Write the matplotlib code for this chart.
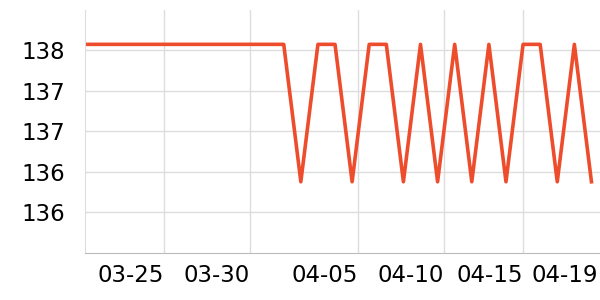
import matplotlib
matplotlib.use("Agg")
import matplotlib.pyplot as plt
import pandas as pd

# daily readings
dates = pd.date_range("2024-03-20", "2024-04-19", freq="D")
hi, lo = 137.66, 136.30
values = [hi] * 13 + [lo, hi, hi, lo, hi, hi, lo, hi, lo, hi, lo, hi, lo, hi, hi, lo, hi, lo]

tick_pos = pd.to_datetime(["2024-03-25 00:00", "2024-03-30 00:00", "2024-04-05 08:00",
                           "2024-04-10 09:00", "2024-04-15 00:00", "2024-04-19 09:00"])
tick_labels = ["03-25", "03-30", "04-05", "04-10", "04-15", "04-19"]
y_ticks = [136.0, 136.4, 136.8, 137.2, 137.6]

fig = plt.figure(figsize=(6, 3), dpi=100)
ax = fig.add_axes([85 / 600, 47.5 / 300, 515 / 600, 242.5 / 300])

ax.plot(dates, values, color="#ee4d2d", lw=2.6, solid_joinstyle="round")

ax.set_xlim(pd.Timestamp("2024-03-20 09:00"), pd.Timestamp("2024-04-19 12:00"))
ax.set_ylim(135.6, 138.0)

ax.set_xticks(tick_pos)
ax.set_xticklabels(tick_labels, ha="right")
ax.set_yticks(y_ticks)
ax.yaxis.set_major_formatter(plt.FuncFormatter(lambda v, p: f"{v:.0f}"))

ax.tick_params(axis="both", length=0, labelsize=16.5)
ax.tick_params(axis="y", pad=14)
ax.tick_params(axis="x", pad=8)

ax.grid(True, color="#dddddd", lw=1)
ax.set_axisbelow(True)
ax.get_xgridlines()[-1].set_visible(False)

for s in ["top", "right"]:
    ax.spines[s].set_visible(False)
ax.spines["left"].set_color("#dddddd")
ax.spines["bottom"].set_color("#bbbbbb")

fig.savefig("out.png", dpi=100)
